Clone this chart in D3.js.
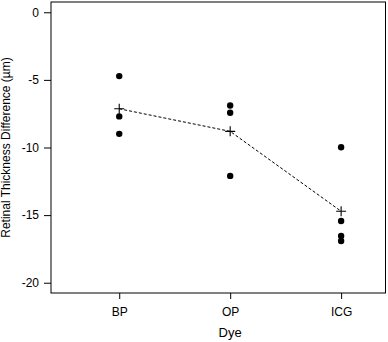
<!DOCTYPE html>
<html>
<head>
<meta charset="utf-8">
<script src="https://cdn.jsdelivr.net/npm/d3@7"></script>
<style>
  body { margin: 0; background: #fff; }
  svg { display: block; font-family: "Liberation Sans", Arial, sans-serif; }
</style>
</head>
<body>
<svg id="chart"></svg>
<script>
// data
const dyes = ["BP", "OP", "ICG"];
const bpValues = [-4.72, -7.70, -8.99];
const opValues = [-6.89, -7.43, -12.1];
const icgValues = [-9.98, -15.43, -16.54, -16.91];
const yTicks = [0, -5, -10, -15, -20];

const groups = [
  { dye: "BP", values: bpValues },
  { dye: "OP", values: opValues },
  { dye: "ICG", values: icgValues }
];
groups.forEach((g, i) => { g.pos = i + 1; g.mean = d3.mean(g.values); });

const width = 388, height = 342;
const margin = { top: 2, right: 2.5, bottom: 49, left: 51 };

const svg = d3.select("#chart")
  .attr("width", width)
  .attr("height", height);

// group index on x (R style, with extra room on the left)
const x = d3.scaleLinear()
  .domain([0.385, 3.4])
  .range([margin.left, width - margin.right]);

const y = d3.scaleLinear()
  .domain([0.76, -20.76])
  .range([margin.top, height - margin.bottom]);

// frame
svg.append("rect")
  .attr("x", margin.left)
  .attr("y", margin.top)
  .attr("width", width - margin.left - margin.right)
  .attr("height", height - margin.top - margin.bottom)
  .attr("fill", "none")
  .attr("stroke", "#000")
  .attr("stroke-width", 1);

// axes
const xAxis = svg.append("g")
  .attr("transform", `translate(0,${height - margin.bottom})`)
  .call(d3.axisBottom(x).tickValues([1, 2, 3]).tickSize(6).tickPadding(8)
    .tickFormat(d => dyes[d - 1]));
xAxis.select(".domain").remove();
xAxis.selectAll("text").style("font-size", "12px").attr("fill", "#000");

const yAxis = svg.append("g")
  .attr("transform", `translate(${margin.left},0)`)
  .call(d3.axisLeft(y).tickValues(yTicks).tickSize(7).tickPadding(5)
    .tickFormat(d => d3.format("d")(d).replace("\u2212", "-")));
yAxis.select(".domain").remove();
yAxis.selectAll("text").style("font-size", "12px").attr("fill", "#000");

// axis titles
svg.append("text")
  .attr("x", x(2))
  .attr("y", 337)
  .attr("text-anchor", "middle")
  .style("font-size", "13px")
  .text("Dye");

svg.append("text")
  .attr("transform", "translate(10,147.5) rotate(-90)")
  .attr("text-anchor", "middle")
  .style("font-size", "12px")
  .text("Retinal Thickness Difference  (\u00b5m)");

// mean line
svg.append("path")
  .datum(groups)
  .attr("fill", "none")
  .attr("stroke", "#000")
  .attr("stroke-width", 1)
  .attr("stroke-dasharray", "3,2")
  .attr("d", d3.line().x(d => x(d.pos)).y(d => y(d.mean)));

// points
groups.forEach(g => {
  svg.selectAll(null)
    .data(g.values)
    .enter()
    .append("circle")
      .attr("cx", x(g.pos))
      .attr("cy", d => y(d))
      .attr("r", 3.2)
      .attr("fill", "#000");
});

// mean crosses
const cross = 5;
svg.selectAll(null)
  .data(groups)
  .enter()
  .append("path")
    .attr("d", d => `M${x(d.pos) - cross},${y(d.mean)}H${x(d.pos) + cross}M${x(d.pos)},${y(d.mean) - cross}V${y(d.mean) + cross}`)
    .attr("stroke", "#000")
    .attr("stroke-width", 1.1)
    .attr("fill", "none");
</script>
</body>
</html>
